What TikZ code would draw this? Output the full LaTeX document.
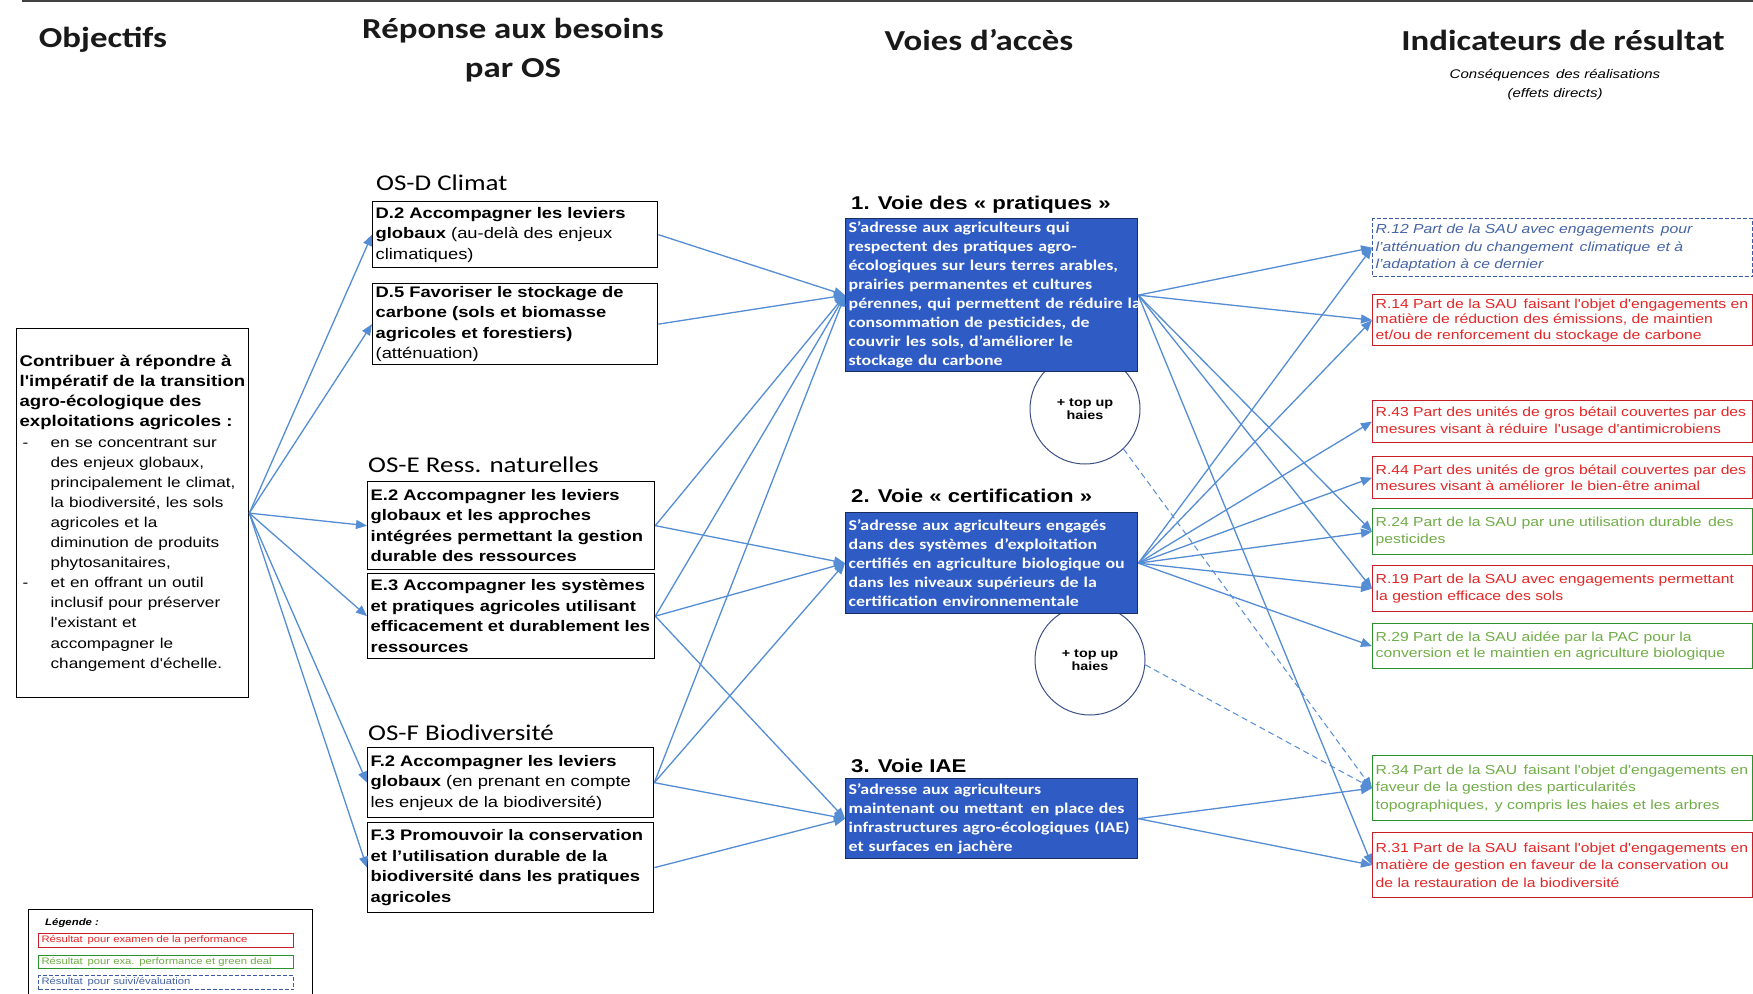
\documentclass[tikz,border=0pt]{standalone}
\usepackage{fontspec}
\usetikzlibrary{arrows.meta}
\newfontfamily\arialf{Liberation Sans}[FakeStretch=1.2]
\newfontfamily\calf{Carlito}[FakeStretch=1.2]
\definecolor{arrowblue}{RGB}{84,141,212}
\definecolor{voiefill}{RGB}{46,92,196}
\definecolor{voiedraw}{RGB}{25,45,95}
\definecolor{rtext}{RGB}{228,38,38}
\definecolor{rdraw}{RGB}{200,30,40}
\definecolor{gtext}{RGB}{112,173,71}
\definecolor{gdraw}{RGB}{45,145,45}
\definecolor{btext}{RGB}{70,100,165}
\definecolor{bdraw}{RGB}{60,90,165}
\definecolor{circdraw}{RGB}{60,80,135}
\newcommand\Li[2]{\mbox{\fontsize{14.3}{20.1}\selectfont\makebox[31pt][l]{\hspace{3pt}#1}#2}}
\begin{document}
\begin{tikzpicture}[x=1pt,y=-1pt,
  hdr/.style={font=\calf\bfseries\fontsize{29}{39}\selectfont, align=center, text=black!90, inner sep=0pt},
  oslabel/.style={font=\calf\fontsize{22.5}{26}\selectfont, anchor=west, inner sep=0pt, text=black},
  voielabel/.style={font=\arialf\bfseries\fontsize{18.5}{22}\selectfont, anchor=west, inner sep=0pt},
  objbox/.style={draw=black, line width=1.3pt, anchor=north west, inner xsep=3pt, inner ysep=0pt,
     minimum width=232pt, text width=226pt, minimum height=369pt, align=left,
     font=\arialf\fontsize{15.5}{20.1}\selectfont},
  osbox/.style={draw=black, line width=1.3pt, anchor=north west, inner xsep=3pt, inner ysep=0pt,
     align=left, font=\arialf\fontsize{15.3}{20.5}\selectfont},
  voiebox/.style={draw=voiedraw, fill=voiefill, line width=1.3pt, anchor=north west, inner xsep=3pt, inner ysep=0pt,
     minimum width=292pt, text width=286pt, align=left, text=white,
     font=\calf\bfseries\fontsize{14.9}{19}\selectfont},
  ind/.style={line width=1.3pt, anchor=north west, inner xsep=3pt, inner ysep=0pt,
     minimum width=380pt, text width=374pt, align=left,
     font=\arialf\fontsize{13.1}{16.5}\selectfont},
  indr/.style={ind, draw=rdraw, text=rtext},
  indg/.style={ind, draw=gdraw, text=gtext},
  indb/.style={ind, draw=bdraw, text=btext, dash pattern=on 4pt off 2pt, font=\arialf\itshape\fontsize{13.1}{17.5}\selectfont},
  topup/.style={circle, draw=circdraw, line width=1pt, fill=white, minimum size=110pt, inner sep=0pt,
     align=center, font=\arialf\bfseries\fontsize{12}{13.5}\selectfont},
  arr/.style={draw=arrowblue, line width=1.3pt, -{Triangle[length=11pt,width=9pt]}},
  darr/.style={draw=arrowblue, line width=1pt, dash pattern=on 6pt off 4pt, -{Triangle[length=11pt,width=9pt]}},
  legbox/.style={line width=1pt, anchor=north west, inner xsep=3pt, inner ysep=0pt,
     minimum width=255pt, text width=249pt, align=left, font=\arialf\fontsize{9.4}{11}\selectfont}
]
\useasboundingbox (0,0) rectangle (1753,993);
\fill[white] (0,0) rectangle (1753,993);
\draw[line width=2pt, black!75] (22,1) -- (1753,1);

% headers
\node[hdr] (h1) at (103,40) {Objectifs};
\node[hdr] (h2) at (513,50) {Réponse aux besoins\\par OS};
\node[hdr] (h3) at (979,40) {Voies d’accès};
\node[hdr] (h4) at (1563,40) {Indicateurs de résultat};
\node[align=center, inner sep=0pt, font=\arialf\itshape\fontsize{12.5}{19}\selectfont] (sub) at (1555,84.5)
  {Conséquences\, des réalisations\\(effets directs)};

% objective box
\node[objbox] (obj) at (16,328) {%
\mbox{\bfseries Contribuer à répondre à}\\
\mbox{\bfseries l'impératif de la transition}\\
\mbox{\bfseries agro-écologique des}\\
\mbox{\bfseries exploitations agricoles :}\\
\Li{-}{en se concentrant sur}\\
\Li{}{des enjeux globaux,}\\
\Li{}{principalement le climat,}\\
\Li{}{la biodiversité, les sols}\\
\Li{}{agricoles et la}\\
\Li{}{diminution de produits}\\
\Li{}{phytosanitaires,}\\
\Li{-}{et en offrant un outil}\\
\Li{}{inclusif pour préserver}\\
\Li{}{l'existant et}\\
\Li{}{accompagner le}\\
\Li{}{changement d'échelle.}};

% OS labels
\node[oslabel] (osd) at (376,183) {OS-D Climat};
\node[oslabel] (ose) at (368,465) {OS-E Ress. naturelles};
\node[oslabel] (osf) at (368,733) {OS-F Biodiversité};

% OS boxes
\node[osbox, minimum width=285pt, text width=279pt, minimum height=66pt] (d2) at (372,201) {%
\mbox{\bfseries D.2 Accompagner les leviers}\\
\mbox{\textbf{globaux} (au-delà des enjeux}\\
\mbox{climatiques)}};
\node[osbox, minimum width=285pt, text width=279pt, minimum height=81pt] (d5) at (372,283) {%
\mbox{\bfseries D.5 Favoriser le stockage de}\\
\mbox{\bfseries carbone (sols et biomasse}\\
\mbox{\bfseries agricoles et forestiers)}\\
\mbox{(atténuation)}};
\node[osbox, minimum width=287pt, text width=281pt, minimum height=88pt] (e2) at (367,481) {%
\mbox{\bfseries E.2 Accompagner les leviers}\\
\mbox{\bfseries globaux et les approches}\\
\mbox{\bfseries intégrées permettant la gestion}\\
\mbox{\bfseries durable des ressources}};
\node[osbox, minimum width=287pt, text width=281pt, minimum height=85pt] (e3) at (367,573) {%
\mbox{\bfseries E.3 Accompagner les systèmes}\\
\mbox{\bfseries et pratiques agricoles utilisant}\\
\mbox{\bfseries efficacement et durablement les}\\
\mbox{\bfseries ressources}};
\node[osbox, minimum width=286pt, text width=280pt, minimum height=70pt] (f2) at (367,747) {%
\mbox{\bfseries F.2 Accompagner les leviers}\\
\mbox{\textbf{globaux} (en prenant en compte}\\
\mbox{les enjeux de la biodiversité)}};
\node[osbox, minimum width=286pt, text width=280pt, minimum height=90pt] (f3) at (367,822) {%
\mbox{\bfseries F.3 Promouvoir la conservation}\\
\mbox{\bfseries et l’utilisation durable de la}\\
\mbox{\bfseries biodiversité dans les pratiques}\\
\mbox{\bfseries agricoles}};

% top-up circles (behind the blue boxes)
\node[topup] (c1) at (1085,409) {+ top up\\haies};
\node[topup] (c2) at (1090,660) {+ top up\\haies};

% Voie labels
\node[voielabel] (l1) at (851,205) {1. Voie des « pratiques »};
\node[voielabel] (l2) at (851,496) {2. Voie « certification »};
\node[voielabel] (l3) at (851,766) {3. Voie IAE};

% Voie boxes
\node[voiebox, minimum height=153pt] (v1) at (845,218) {%
\mbox{S’adresse aux agriculteurs qui}\\
\mbox{respectent des pratiques agro-}\\
\mbox{écologiques sur leurs terres arables,}\\
\mbox{prairies permanentes et cultures}\\
\mbox{pérennes, qui permettent de réduire la}\\
\mbox{consommation de pesticides, de}\\
\mbox{couvrir les sols, d’améliorer le}\\
\mbox{stockage du carbone}};
\node[voiebox, minimum height=101pt] (v2) at (845,512) {%
\mbox{S’adresse aux agriculteurs engagés}\\
\mbox{dans des systèmes\, d’exploitation}\\
\mbox{certifiés en agriculture biologique ou}\\
\mbox{dans les niveaux supérieurs de la}\\
\mbox{certification environnementale}};
\node[voiebox, minimum height=80pt] (v3) at (845,778) {%
\mbox{S’adresse aux agriculteurs}\\
\mbox{maintenant ou mettant\, en place des}\\
\mbox{infrastructures agro-écologiques (IAE)}\\
\mbox{et surfaces en jachère}};

% indicator boxes
\node[indb, minimum height=58pt] (r12) at (1372,218) {%
\mbox{R.12 Part de la SAU avec engagements\, pour}\\
\mbox{l’atténuation du changement\, climatique\, et à}\\
\mbox{l’adaptation à ce dernier}};
\node[indr, minimum height=51pt, font=\arialf\fontsize{13.1}{15.5}\selectfont] (r14) at (1372,294) {%
\mbox{R.14 Part de la SAU\, faisant l'objet d'engagements en}\\
\mbox{matière de réduction des émissions, de maintien}\\
\mbox{et/ou de renforcement du stockage de carbone}};
\node[indr, minimum height=42pt] (r43) at (1372,400) {%
\mbox{R.43 Part des unités de gros bétail couvertes par des}\\
\mbox{mesures visant à réduire\, l'usage d'antimicrobiens}};
\node[indr, minimum height=42pt] (r44) at (1372,456) {%
\mbox{R.44 Part des unités de gros bétail couvertes par des}\\
\mbox{mesures visant à améliorer\, le bien-être animal}};
\node[indg, minimum height=46pt] (r24) at (1372,508) {%
\mbox{R.24 Part de la SAU par une utilisation durable\, des}\\
\mbox{pesticides}};
\node[indr, minimum height=46pt] (r19) at (1372,565) {%
\mbox{R.19 Part de la SAU avec engagements permettant}\\
\mbox{la gestion efficace des sols}};
\node[indg, minimum height=45pt] (r29) at (1372,623) {%
\mbox{R.29 Part de la SAU aidée par la PAC pour la}\\
\mbox{conversion et le maintien en agriculture biologique}};
\node[indg, minimum height=65pt, font=\arialf\fontsize{13.1}{17.5}\selectfont] (r34) at (1372,755) {%
\mbox{R.34 Part de la SAU\, faisant l'objet d'engagements en}\\
\mbox{faveur de la gestion des particularités}\\
\mbox{topographiques,\, y compris les haies et les arbres}};
\node[indr, minimum height=65pt, font=\arialf\fontsize{13.1}{17.5}\selectfont] (r31) at (1372,832) {%
\mbox{R.31 Part de la SAU\, faisant l'objet d'engagements en}\\
\mbox{matière de gestion en faveur de la conservation ou}\\
\mbox{de la restauration de la biodiversité}};

% legend
\node[draw=black, line width=1.3pt, anchor=north west, minimum width=284pt, minimum height=92pt, inner sep=0pt] (leg) at (28,909) {};
\node[anchor=west, inner sep=0pt, font=\arialf\bfseries\itshape\fontsize{9.5}{11}\selectfont] (legt) at (45,923) {Légende :};
\node[legbox, draw=rdraw, text=rtext, minimum height=14pt] (lr) at (38,933) {Résultat\, pour examen de la performance};
\node[legbox, draw=gdraw, text=gtext, minimum height=13pt] (lg) at (38,955) {Résultat\, pour exa. performance et green deal};
\node[legbox, draw=bdraw, text=btext, dash pattern=on 4pt off 2pt, minimum height=14pt] (lb) at (38,975) {Résultat\, pour suivi/évaluation};

% connectors: objective -> OS
\foreach \t in {d2,d5,e2,e3,f2,f3} \draw[arr] (obj.east) -- (\t.west);

% OS -> voies
\draw[arr] (d2.east) -- (v1.west);
\draw[arr] (d5.east) -- (v1.west);
\draw[arr] (e2.east) -- (v1.west);
\draw[arr] (e2.east) -- (v2.west);
\draw[arr] (e3.east) -- (v1.west);
\draw[arr] (e3.east) -- (v2.west);
\draw[arr] (e3.east) -- (v3.west);
\draw[arr] (f2.east) -- (v1.west);
\draw[arr] (f2.east) -- (v2.west);
\draw[arr] (f2.east) -- (v3.west);
\draw[arr] (f3.east) -- (v3.west);

% voies -> indicators
\foreach \t in {r12,r14,r24,r19,r31} \draw[arr] (v1.east) -- (\t.west);
\foreach \t in {r12,r14,r43,r44,r24,r19,r29} \draw[arr] (v2.east) -- (\t.west);
\foreach \t in {r34,r31} \draw[arr] (v3.east) -- (\t.west);

% top-up dashed links
\draw[darr] (c1.-46) -- (r34.west);
\draw[darr] (c2.-5) -- (r34.west);
\end{tikzpicture}
\end{document}
